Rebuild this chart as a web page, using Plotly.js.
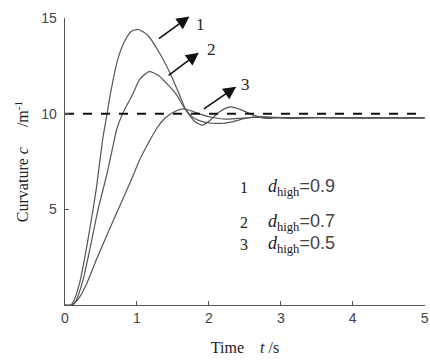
<!DOCTYPE html>
<html><head><meta charset="utf-8">
<script src="https://cdn.plot.ly/plotly-3.0.1.min.js"></script>
<style>body{margin:0;background:#fff}#c{width:430px;height:363px}</style>
</head><body><div id="c"></div>
<script>
const t1 = [0,0.08,0.12,0.2,0.3,0.39,0.44,0.48,0.53,0.58,0.62,0.66,0.73,0.83,0.92,1.02,1.15,1.31,1.45,1.59,1.68,1.8,1.91,2.0,2.15,2.3,2.45,2.6,2.8,3.0,3.2,3.5,4.0,4.5,5.0];
const c1 = [0,0,0.2,1.1,3.0,5.0,6.2,7.4,8.8,9.9,10.8,11.6,12.8,13.8,14.3,14.4,14.1,13.2,12.2,11.0,10.2,9.6,9.4,9.6,10.1,10.35,10.2,9.95,9.75,9.8,9.78,9.8,9.78,9.78,9.78];
const t2 = [0,0.1,0.15,0.25,0.35,0.46,0.58,0.65,0.72,0.8,0.94,1.04,1.17,1.3,1.41,1.55,1.66,1.78,1.9,2.05,2.2,2.35,2.5,2.7,2.9,3.2,3.5,4.0,5.0];
const c2 = [0,0,0.2,1.3,3.0,5.0,6.8,8.0,9.2,10.0,11.0,11.8,12.2,12.0,11.6,11.0,10.3,9.8,9.6,9.5,9.5,9.6,9.75,9.85,9.8,9.75,9.8,9.78,9.78];
const t3 = [0,0.1,0.2,0.3,0.44,0.6,0.8,0.94,1.04,1.15,1.27,1.4,1.55,1.65,1.75,1.9,2.05,2.2,2.4,2.6,3.0,3.5,4.0,5.0];
const c3 = [0,0,0.4,1.1,2.4,3.8,5.5,6.7,7.6,8.4,9.2,9.8,10.15,10.25,10.15,9.95,9.8,9.72,9.75,9.8,9.8,9.78,9.78,9.78];
const refT = [0,5];
const refC = [10,10];
const curveLabels = ['1','2','3'];
const dValues = ['0.9','0.7','0.5'];

const lineStyle = {color:'#555', width:1.2};
const traces = [
  {x:t1, y:c1, mode:'lines', line:lineStyle},
  {x:t2, y:c2, mode:'lines', line:lineStyle},
  {x:t3, y:c3, mode:'lines', line:lineStyle},
  {x:refT, y:refC, mode:'lines', line:{color:'#111', width:2, dash:'dash'}}
].map(tr => Object.assign(tr, {line: Object.assign({}, tr.line, {shape:'spline', smoothing:0.6}), showlegend:false, hoverinfo:'skip', cliponaxis:false}));

const serif = 'Liberation Serif, Times New Roman, serif';
const sans = 'Liberation Sans, Arial, sans-serif';
const arrows = [
  {x:1.73, y:15.08, ax:1.285, ay:13.87, lx:1.89, ly:1.018},
  {x:1.86, y:13.19, ax:1.42, ay:11.94, lx:2.03, ly:13.35},
  {x:2.38, y:11.41, ax:1.91, ay:10.2, lx:2.51, ly:11.5}
];
const annotations = [];
arrows.forEach((a,i) => {
  annotations.push({x:a.x, y:a.y, ax:a.ax, ay:a.ay, axref:'x', ayref:'y', xref:'x', yref:'y',
    showarrow:true, arrowhead:2, arrowsize:1.6, arrowwidth:1.6, arrowcolor:'#111', text:''});
  annotations.push({x:a.lx, y:a.ly, xref:'x', yref: i===0 ? 'paper' : 'y', text:curveLabels[i], showarrow:false,
    font:{family:serif, size:17, color:'#222'}});
});
const legY = [6.13, 4.29, 3.14];
legY.forEach((y,i) => {
  annotations.push({x:2.49, y:y, xref:'x', yref:'y', text:curveLabels[i], showarrow:false,
    font:{family:serif, size:16, color:'#222'}});
  annotations.push({x:2.80, y:y, xref:'x', yref:'y', xanchor:'left', showarrow:false,
    text:'<i>d</i><sub>high</sub><span style="font-family:Liberation Sans,Arial,sans-serif;color:#444">=' + dValues[i] + '</span>',
    font:{family:serif, size:18, color:'#222'}});
});

const layout = {
  width:430, height:363,
  margin:{l:65, r:5, t:18, b:58},
  paper_bgcolor:'#fff', plot_bgcolor:'#fff',
  xaxis:{range:[0,5.005], tickvals:[0,1,2,3,4,5], ticks:'inside', ticklen:4, tickcolor:'#555',
    showline:true, linecolor:'#555', linewidth:1.3, showgrid:false, zeroline:false,
    tickfont:{family:sans, size:14, color:'#444'},
    title:{text:'Time    <i>t</i> /s', font:{family:serif, size:16, color:'#222'}, standoff:16}},
  yaxis:{range:[0,15], tickvals:[5,10,15], ticks:'inside', ticklen:4, tickcolor:'#555',
    showline:true, linecolor:'#555', linewidth:1.3, showgrid:false, zeroline:false,
    tickfont:{family:sans, size:14, color:'#444'}, ticklabelstandoff:4,
    title:{text:'Curvature <i>c</i>     /m<sup>-1</sup>', font:{family:serif, size:16, color:'#222'}, standoff:8}},
  annotations:annotations
};
Plotly.newPlot('c', traces, layout, {staticPlot:true});
</script></body></html>
